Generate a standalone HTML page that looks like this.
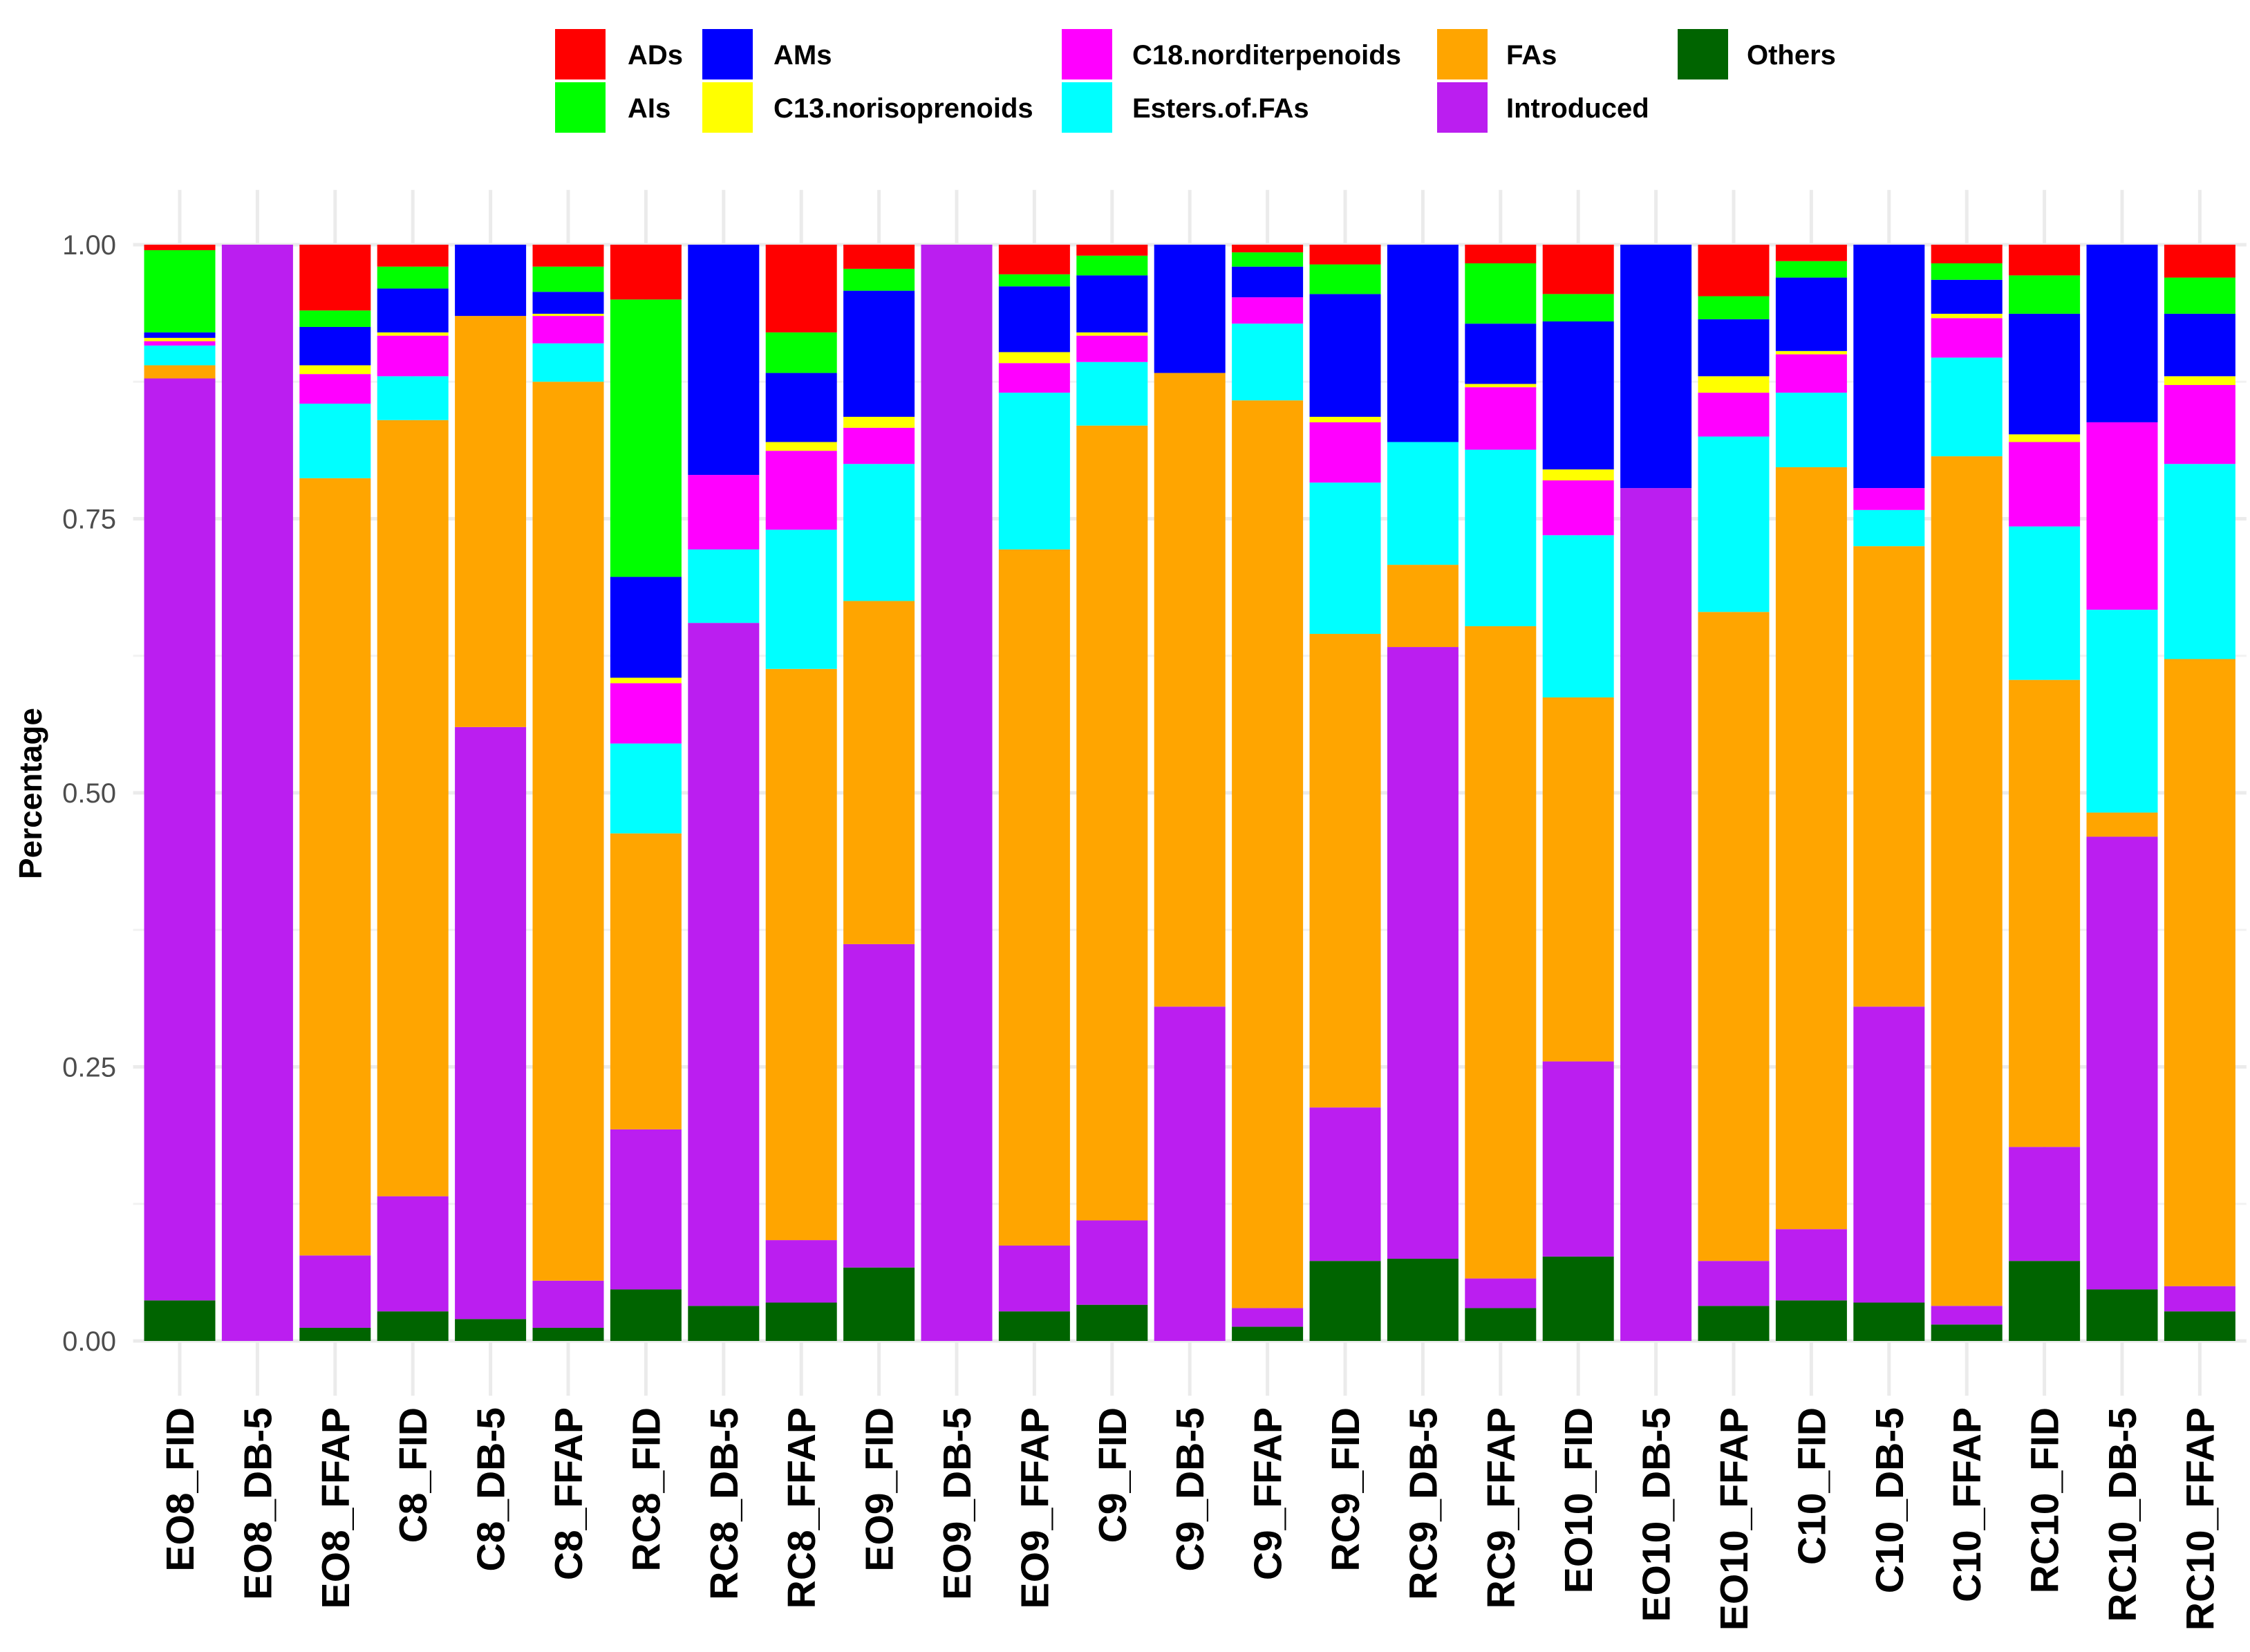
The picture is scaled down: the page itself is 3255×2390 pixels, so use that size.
<!DOCTYPE html>
<html><head><meta charset="utf-8"><style>
body{margin:0;background:#fff;}
svg{display:block;font-family:"Liberation Sans",Arial,sans-serif;}
</style></head><body>
<svg id="chart" width="3255" height="2390" viewBox="0 0 3255 2390" xmlns="http://www.w3.org/2000/svg">
<g id="grid"></g>
<g id="bars"></g>
<g id="axes"></g>
<text transform="translate(60,1148) rotate(-90)" text-anchor="middle" font-size="46" font-weight="bold" fill="#000">Percentage</text>
<g id="legend"></g>
</svg>
<script>
const categories = ["EO8_FID","EO8_DB-5","EO8_FFAP","C8_FID","C8_DB-5","C8_FFAP","RC8_FID","RC8_DB-5","RC8_FFAP","EO9_FID","EO9_DB-5","EO9_FFAP","C9_FID","C9_DB-5","C9_FFAP","RC9_FID","RC9_DB-5","RC9_FFAP","EO10_FID","EO10_DB-5","EO10_FFAP","C10_FID","C10_DB-5","C10_FFAP","RC10_FID","RC10_DB-5","RC10_FFAP"];
const others     = [.037,0,.012,.027,.02,.012,.047,.032,.035,.067,0,.027,.033,0,.013,.073,.075,.03,.077,0,.032,.037,.035,.015,.073,.047,.027];
const introduced = [.841,1,.066,.105,.54,.043,.146,.623,.057,.295,1,.06,.077,.305,.017,.14,.558,.027,.178,.778,.041,.065,.27,.017,.104,.413,.023];
const fas        = [.012,0,.709,.708,.375,.82,.27,0,.521,.313,0,.635,.725,.578,.828,.432,.075,.595,.332,0,.592,.695,.42,.775,.426,.022,.572];
const esters     = [.018,0,.068,.04,0,.035,.082,.067,.127,.125,0,.143,.058,0,.07,.138,.112,.161,.148,0,.16,.068,.033,.09,.14,.185,.178];
const c18        = [.004,0,.027,.037,0,.025,.055,.068,.072,.033,0,.027,.024,0,.024,.055,0,.057,.05,0,.04,.035,.02,.036,.077,.171,.072];
const c13        = [.003,0,.008,.003,0,.002,.005,0,.008,.01,0,.01,.003,0,0,.005,0,.003,.01,0,.015,.003,0,.004,.007,0,.008];
const ams        = [.005,0,.035,.04,.065,.02,.092,.21,.063,.115,0,.06,.052,.117,.028,.112,.18,.055,.135,.222,.052,.067,.222,.031,.11,.162,.057];
const ais        = [.075,0,.015,.02,0,.023,.253,0,.037,.02,0,.011,.018,0,.013,.027,0,.055,.025,0,.021,.015,0,.015,.035,0,.033];
const ads        = [.005,0,.06,.02,0,.02,.05,0,.08,.022,0,.027,.01,0,.007,.018,0,.017,.045,0,.047,.015,0,.017,.028,0,.03];
const yTicks = [0,0.25,0.5,0.75,1];
const yTickLabels = ["0.00","0.25","0.50","0.75","1.00"];

const series = [
 {name:"Others",vals:others,color:"#006400"},
 {name:"Introduced",vals:introduced,color:"#BB1EF0"},
 {name:"FAs",vals:fas,color:"#FFA500"},
 {name:"Esters.of.FAs",vals:esters,color:"#00FFFF"},
 {name:"C18.norditerpenoids",vals:c18,color:"#FF00FF"},
 {name:"C13.norisoprenoids",vals:c13,color:"#FFFF00"},
 {name:"AMs",vals:ams,color:"#0000FF"},
 {name:"AIs",vals:ais,color:"#00FF00"},
 {name:"ADs",vals:ads,color:"#FF0000"}
];
const NS="http://www.w3.org/2000/svg";
const y0=1940, y1=354;
const yScale=v=>y0-(y0-y1)*v;
const pitch=112.4, firstC=260, bw=103;
const xScale=i=>firstC+i*pitch;
const panelL=firstC-0.6*pitch, panelR=xScale(categories.length-1)+0.6*pitch;
const panelT=yScale(1.05), panelB=yScale(-0.05);
function mk(tag,attrs,parent){const e=document.createElementNS(NS,tag);for(const k in attrs)e.setAttribute(k,attrs[k]);parent.appendChild(e);return e;}
const grid=document.getElementById('grid'), bars=document.getElementById('bars'), axes=document.getElementById('axes'), legend=document.getElementById('legend');
for(let i=0;i<yTicks.length-1;i++){
 const v=(yTicks[i]+yTicks[i+1])/2;
 const l=mk('line',{x1:panelL,x2:panelR,y1:yScale(v),y2:yScale(v),stroke:'#f2f2f2','stroke-width':3},grid);
 
 
}
yTicks.forEach((v,i)=>{
 const l=mk('line',{x1:panelL,x2:panelR,y1:yScale(v),y2:yScale(v),stroke:'#ebebeb','stroke-width':5},grid);
 
 
 const t=mk('text',{x:168,y:yScale(v)+14,'text-anchor':'end','font-size':40,fill:'#4d4d4d'},axes);
 t.textContent=yTickLabels[i];
 
 
});
categories.forEach((c,i)=>{
 const x=xScale(i);
 const l=mk('line',{x1:x,x2:x,y1:panelT,y2:panelB,stroke:'#ebebeb','stroke-width':5},grid);
 
 
 let cum=0;
 series.forEach(s=>{
  const v=s.vals[i];
  if(v>0){
   const r=mk('rect',{x:x-bw/2,y:yScale(cum+v),width:bw,height:yScale(cum)-yScale(cum+v),fill:s.color},bars);
   
   
  }
  cum+=v;
 });
 const t=mk('text',{transform:`translate(${x+20},2036) rotate(-90)`,'text-anchor':'end','font-size':57,'font-weight':'bold',fill:'#000'},axes);
 t.textContent=c;
 
 
});
const legItems=[
 ["ADs","#FF0000",803,42,908],["AIs","#00FF00",803,119,908],
 ["AMs","#0000FF",1016,42,1119],["C13.norisoprenoids","#FFFF00",1016,119,1119],
 ["C18.norditerpenoids","#FF00FF",1536,42,1638],["Esters.of.FAs","#00FFFF",1536,119,1638],
 ["FAs","#FFA500",2079,42,2179],["Introduced","#BB1EF0",2079,119,2179],
 ["Others","#006400",2427,42,2527]
];
legItems.forEach(it=>{
 const r=mk('rect',{x:it[2],y:it[3],width:73,height:73,fill:it[1]},legend);
 
 
 const t=mk('text',{x:it[4],y:it[3]+51,'font-size':40,'font-weight':'bold',fill:'#000'},legend);
 t.textContent=it[0];
 
 
});
</script>
</body></html>
